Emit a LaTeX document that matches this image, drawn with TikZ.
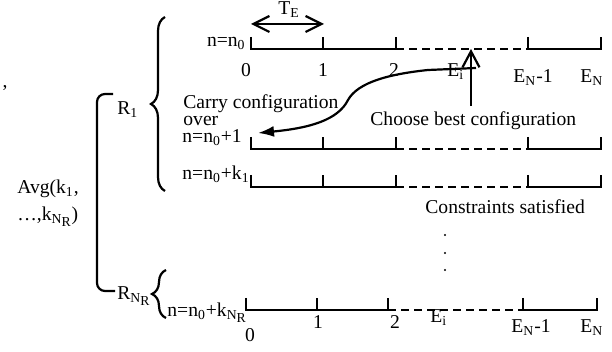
\documentclass[tikz,border=0pt]{standalone}
\usepackage{fontspec}
\setmainfont{Liberation Serif}
\usetikzlibrary{
  arrows.meta,
  positioning,
  calc,
  decorations.pathreplacing
}
\newcommand{\nrsub}{\textsubscript{N\raisebox{-0.45ex}{R}}}
\tikzset{
  lbl/.style={font=\fontsize{9.8}{11}\selectfont, inner sep=0pt},
  tline/.style={line width=1.1pt},
  tgap/.style={line width=1.1pt, dash pattern=on 4pt off 2.5pt},
  openarr/.style={line width=1.1pt, -{Straight Barb[length=8pt,width=8.5pt]}},
  spanarr/.style={line width=1.1pt, {Straight Barb[length=8pt,width=8pt]}-{Straight Barb[length=8pt,width=8pt]}},
  carry/.style={line width=1.1pt, -{Latex[length=8pt,width=5.5pt]}},
  brc/.style={decorate, decoration={brace, amplitude=7pt}, line width=1.1pt},
  grp/.style={line width=1.1pt, rounded corners=4pt}
}

\begin{document}
\begin{tikzpicture}[x=0.5pt, y=-0.5pt]
  \useasboundingbox (0,0) rectangle (612,352);

  % timelines of run R_1
  \foreach \r/\yy in {a/49, b/149, c/187} {
    \draw[tline] (251,\yy-12) -- (251,\yy) -- (396,\yy) -- (396,\yy-12);
    \draw[tline] (323,\yy) -- (323,\yy-12);
    \draw[tgap] (396,\yy) -- (528,\yy);
    \draw[tline] (528,\yy-12) -- (528,\yy) -- (601,\yy) -- (601,\yy-12);
    \coordinate (\r0) at (251,\yy);
  }
  % timeline of run R_NR
  \draw[tline] (246,298) -- (246,310) -- (388,310) -- (388,298);
  \draw[tline] (317,310) -- (317,298);
  \draw[tgap] (388,310) -- (523,310);
  \draw[tline] (523,298) -- (523,310) -- (597,310) -- (597,298);

  % row labels
  \node[lbl, anchor=base east] (n0) at (246,47) {n=n\textsubscript{0}};
  \node[lbl, anchor=base west] (n1) at (182,143) {n=n\textsubscript{0}+1};
  \node[lbl, anchor=base west] (nk) at (182,180) {n=n\textsubscript{0}+k\textsubscript{1}};
  \node[lbl, anchor=base west] (nkr) at (167,317) {n=n\textsubscript{0}+k\nrsub};

  % epoch numbers, top
  \node[lbl, anchor=base] (ta0) at (246,77) {0};
  \node[lbl, anchor=base] (ta1) at (323,77) {1};
  \node[lbl, anchor=base] (ta2) at (394,77) {2};
  \node[lbl, anchor=base west] (tai) at (447,77) {E\textsubscript{i}};
  \node[lbl, anchor=base west] (tan1) at (513,83) {E\textsubscript{N}-1};
  \node[lbl, anchor=base west] (tan) at (580,83) {E\textsubscript{N}};

  % epoch numbers, bottom
  \node[lbl, anchor=base] (tb0) at (250,342) {0};
  \node[lbl, anchor=base] (tb1) at (318,329) {1};
  \node[lbl, anchor=base] (tb2) at (395,329) {2};
  \node[lbl, anchor=base west] (tbi) at (430,323) {E\textsubscript{i}};
  \node[lbl, anchor=base west] (tbn1) at (511,333) {E\textsubscript{N}-1};
  \node[lbl, anchor=base west] (tbn) at (580,333) {E\textsubscript{N}};

  % epoch length
  \coordinate (te1) at (251,24);
  \coordinate (te2) at (324,24);
  \draw[spanarr] (te1) -- (te2);
  \node[lbl, anchor=base] (te) at (289,15) {T\textsubscript{E}};

  % choose / carry over
  \node[lbl, anchor=base west, inner ysep=2.8pt] (choose) at (370,126) {Choose best configuration};
  \coordinate (pick) at (471,49);
  \draw[openarr] (choose.north -| pick) -- (pick);
  \node[lbl, anchor=north west, align=left, font=\fontsize{9.8}{8.5}\selectfont] (carrytxt) at (183,94.5) {Carry configuration\\over};
  \coordinate (cstart) at (476,68);
  \coordinate (cend) at (258,133);
  \draw[carry] (cstart) -- (428,70) .. controls (390,74) and (358,82) .. (348,100)
    .. controls (338,120) and (310,128) .. (cend);

  \node[lbl, anchor=base west] (sat) at (425,214) {Constraints satisfied};
  \foreach \yy in {235,253,270}
    \fill (445,\yy) circle (0.55pt);

  % runs
  \draw[brc] (165,191) -- (165,17);
  \draw[brc] (166,318) -- (166,270);
  \node[lbl, anchor=base west] (r1) at (117,115) {R\textsubscript{1}};
  \node[lbl, anchor=base west] (rnr) at (117,300) {R\nrsub};
  \draw[grp] (113,94) -- (97,94) -- (97,291) -- (115,291);
  \node[lbl, align=left, font=\fontsize{9.8}{13.5}\selectfont] (avg) at (48,203)
    {Avg(k\textsubscript{1},\\\ldots,k\nrsub)};
  \node[lbl, anchor=base] (cm) at (5,88) {,};
\end{tikzpicture}
\end{document}
